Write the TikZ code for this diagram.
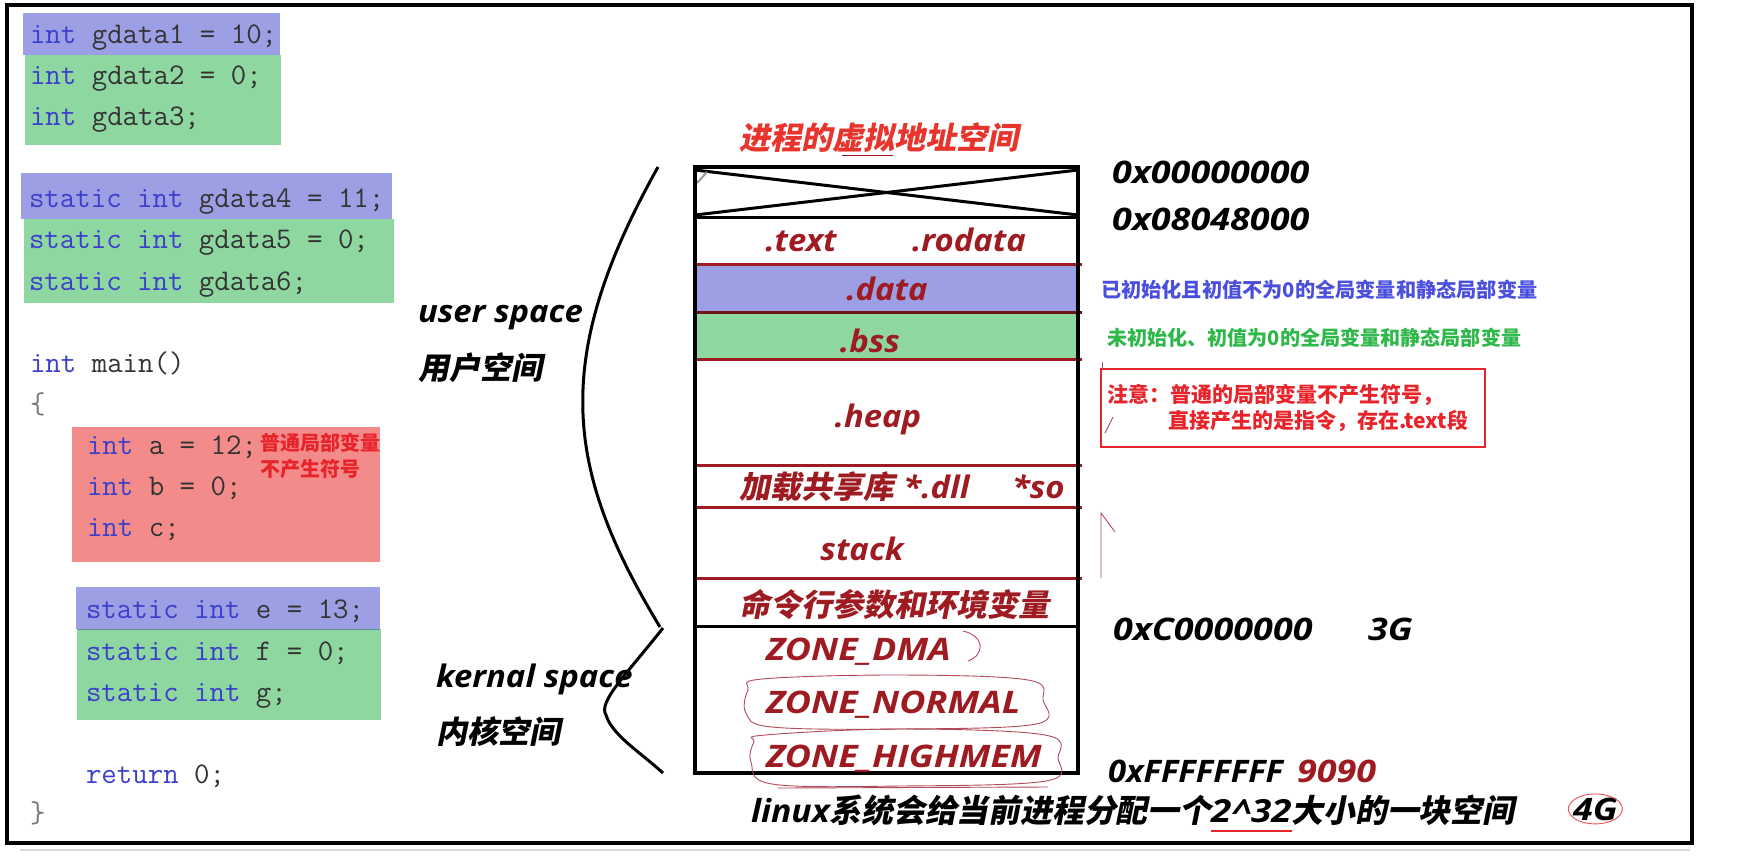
\documentclass[tikz,border=0pt]{standalone}
\usepackage{fontspec}
\newfontfamily\latf[FakeStretch=1.06]{Open Sans}
\newfontfamily\latw[FakeStretch=1.16]{Open Sans}
\newfontfamily\zhf[FakeSlant=0.2]{Noto Sans CJK SC}
\newfontfamily\zhup{Noto Sans CJK SC}
\newcommand\LT[1]{{\latf\bfseries\itshape #1}}
\newcommand\LW[1]{{\latw\bfseries\itshape #1}}
\newcommand\ZT[1]{{\zhf\bfseries #1}}
\newcommand\kwd[1]{\textcolor{kw}{#1}}

\definecolor{kw}{HTML}{3B3FCB}
\definecolor{codetxt}{HTML}{333333}
\definecolor{bracegray}{HTML}{777777}
\definecolor{hlblue}{HTML}{9C9FE3}
\definecolor{hlgreen}{HTML}{8FD7A1}
\definecolor{hlred}{HTML}{F38B8B}
\definecolor{segred}{HTML}{9E1B22}
\definecolor{titlered}{HTML}{E8342C}
\definecolor{notered}{HTML}{E8242B}
\definecolor{noteblue}{HTML}{4B4FDD}
\definecolor{notegreen}{HTML}{2FB84A}
\definecolor{penred}{HTML}{B04A5A}

\begin{document}
\begin{tikzpicture}[x=1pt,y=-1pt,
  every node/.style={inner sep=0pt, outer sep=0pt},
  code/.style={anchor=base west, text=codetxt, font=\fontsize{30}{30}\selectfont\ttfamily},
  lab/.style={font=\fontsize{31}{31}\selectfont},
  seglab/.style={lab, text=segred, anchor=base},
  segwest/.style={lab, text=segred, anchor=base west},
  blacklab/.style={lab, text=black, anchor=base west},
  sepline/.style={segred, line width=3pt},
  pen/.style={penred, line width=0.9pt},
  note/.style={anchor=west, font=\fontsize{21}{22}\selectfont\zhup\bfseries},
  bracket/.style={black, line width=3pt}]

\useasboundingbox (0,0) rectangle (1753,855);
\fill[white] (0,0) rectangle (1753,855);

% outer frame
\draw[black!15, line width=1.2pt] (20,850) -- (1690,850);
\draw[black, line width=3.5pt] (7,5) rectangle (1692,843);

% ---------- source code with highlighted declarations ----------
\fill[hlblue]  (23,13)  rectangle (280,55);
\fill[hlgreen] (25,55)  rectangle (281,145);
\fill[hlblue]  (21,173) rectangle (392,219);
\fill[hlgreen] (24,219) rectangle (394,303);
\fill[hlred]   (72,427) rectangle (380,562);
\fill[hlblue]  (76,587) rectangle (380,629);
\fill[hlgreen] (77,629) rectangle (381,720);
\draw[black!45!teal!60, line width=1pt] (77,629) -- (380,629);

\node[code] (c1)  at (30,43)  {\kwd{int} gdata1 = 10;};
\node[code] (c2)  at (30,84)  {\kwd{int} gdata2 = 0;};
\node[code] (c3)  at (30,125) {\kwd{int} gdata3;};
\node[code] (c4)  at (29,207) {\kwd{static} \kwd{int} gdata4 = 11;};
\node[code] (c5)  at (29,248) {\kwd{static} \kwd{int} gdata5 = 0;};
\node[code] (c6)  at (29,290) {\kwd{static} \kwd{int} gdata6;};
\node[code] (c7)  at (30,372) {\kwd{int} main()};
\node[code, text=bracegray] (c8) at (30,413) {\{};
\node[code] (c9)  at (87,454) {\kwd{int} a = 12;};
\node[code] (c10) at (87,495) {\kwd{int} b = 0;};
\node[code] (c11) at (87,536) {\kwd{int} c;};
\node[code] (c12) at (86,618) {\kwd{static} \kwd{int} e = 13;};
\node[code] (c13) at (86,660) {\kwd{static} \kwd{int} f = 0;};
\node[code] (c14) at (86,701) {\kwd{static} \kwd{int} g;};
\node[code] (c15) at (86,783) {\kwd{return} 0;};
\node[code, text=bracegray] (c16) at (30,822) {\}};

\node[note, text=notered, font=\fontsize{20}{20}\selectfont\zhup\bfseries] (loc1) at (260,443) {普通局部变量};
\node[note, text=notered, font=\fontsize{20}{20}\selectfont\zhup\bfseries] (loc2) at (260,469) {不产生符号};

% ---------- virtual address space ----------
\node[lab, text=titlered, anchor=base west] (title) at (739,149) {\ZT{进程的虚拟地址空间}};
\draw[segred, line width=0.8pt] (842,155) -- (893,155);

\fill[hlblue]  (695,264) rectangle (1078,312);
\fill[hlgreen] (695,312) rectangle (1078,359);

% unused low region, crossed out
\draw[black, line width=3pt] (695,170) -- (1078,215);
\draw[black, line width=3pt] (695,215) -- (1078,170);
\draw[black!40, line width=2pt] (697,183) -- (707,172);

\draw[sepline] (695,264) -- (1082,264);
\draw[sepline, segred!70!black] (695,312) -- (1082,312);
\draw[sepline] (695,359) -- (1082,359);
\draw[sepline] (695,465) -- (1082,465);
\draw[sepline] (695,507) -- (1082,507);
\draw[sepline] (695,578) -- (1082,578);
\draw[black, line width=3pt] (695,217) -- (1078,217);
\draw[black, line width=3pt] (695,626) -- (1078,626);
\draw[black, line width=3.5pt] (695,167) rectangle (1078,773);

\node[seglab] (stext)   at (801,251) {\LT{.text}};
\node[seglab] (srodata) at (969,251) {\LT{.rodata}};
\node[seglab] (sdata)   at (887,300) {\LT{.data}};
\node[seglab] (sbss)    at (870,352) {\LT{.bss}};
\node[seglab] (sheap)   at (878,427) {\LT{.heap}};
\node[segwest] (sshlib) at (739,498) {\ZT{加载共享库} \LT{*.dll}};
\node[segwest] (sso)    at (1012,498) {\LT{*so}};
\node[seglab] (sstack)  at (862,560) {\LT{stack}};
\node[segwest] (senv)   at (739,616) {\ZT{命令行参数和环境变量}};
\node[segwest] (zdma)   at (766,660) {\LW{ZONE\_DMA}};
\node[segwest] (znorm)  at (766,713) {\LW{ZONE\_NORMAL}};
\node[segwest] (zhigh)  at (766,767) {\LW{ZONE\_HIGHMEM}};

% hand-drawn marks around the kernel zones
\draw[pen] (963,631) .. controls (985,636) and (985,655) .. (968,661);
\draw[pen] plot[smooth cycle, tension=0.6] coordinates {(762,679) (900,675) (1028,680) (1043,700) (1036,724) (900,729) (772,727) (746,713) (748,690)};
\draw[pen] plot[smooth cycle, tension=0.6] coordinates {(765,735) (900,729) (1045,735) (1058,758) (1046,781) (900,786) (772,784) (751,762) (754,742)};
\draw[pen] (778,788) -- (1048,787);

% user / kernel braces
\draw[bracket] (658,167) .. controls (550,360) and (565,470) .. (660,627);
\draw[bracket] (663,628) .. controls (625,676) and (598,702) .. (606,715)
               .. controls (612,735) and (640,752) .. (663,773);

\node[blacklab] (user)   at (418,322) {\LT{user space}};
\node[blacklab] (userzh) at (418,379) {\ZT{用户空间}};
\node[blacklab] (kern)   at (436,687) {\LT{kernal space}};
\node[blacklab] (kernzh) at (436,743) {\ZT{内核空间}};

% addresses
\node[blacklab] (a0) at (1112,183) {\LW{0x00000000}};
\node[blacklab] (a1) at (1112,230) {\LW{0x08048000}};
\node[blacklab] (a2) at (1113,640) {\LW{0xC0000000}};
\node[blacklab] (g3) at (1368,640) {\LW{3G}};
\node[blacklab] (a3) at (1108,782) {\LT{0xFFFFFFFF}};
\node[segwest]  (n9) at (1297,782) {\LW{9090}};

% notes
\node[note, text=noteblue, font=\fontsize{20.2}{22}\selectfont\zhup\bfseries] (nd) at (1101,290) {已初始化且初值不为0的全局变量和静态局部变量};
\node[note, text=notegreen, font=\fontsize{20.1}{22}\selectfont\zhup\bfseries] (nb) at (1107,338) {未初始化、初值为0的全局变量和静态局部变量};
\draw[notered, line width=2pt] (1101,369) rectangle (1485,447);
\node[note, text=notered] (r1) at (1107,395) {注意：普通的局部变量不产生符号，};
\node[note, text=notered] (r2) at (1168,421) {直接产生的是指令，存在.text段};

\draw[pen] (1102,362) -- (1102,369);
\draw[pen] (1113,417) -- (1105,433);
\draw[pen] (1101,578) -- (1101,513) -- (1115,532);

% bottom remark
\begin{scope}[lab/.style={font=\fontsize{31.8}{32}\selectfont}]
\node[blacklab] (bl1) at (751,822) {\LT{linux}\ZT{系统会给当前进程分配一个}};
\node[blacklab] (bl2) at (bl1.base east) {\LW{2\textasciicircum32}};
\node[blacklab] (bl3) at (bl2.base east) {\ZT{大小的一块空间}};
\end{scope}
\draw[notered, line width=2.5pt] ([yshift=-9pt]bl2.base west) -- ([yshift=-9pt]bl2.base east);
\node[blacklab] (g4) at (1573,820) {\LW{4G}};
\draw[notered!80, line width=0.9pt] (g4.center) ellipse [x radius=27pt, y radius=15pt];

\end{tikzpicture}
\end{document}
